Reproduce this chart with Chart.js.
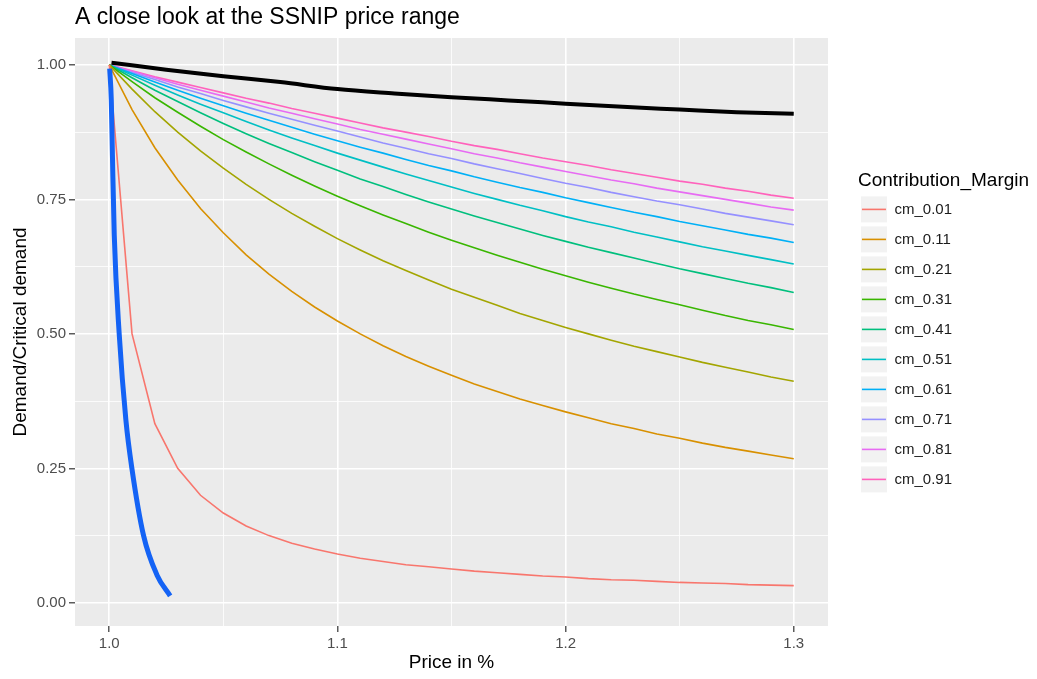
<!DOCTYPE html>
<html>
<head>
<meta charset="utf-8">
<script src="https://cdn.jsdelivr.net/npm/chart.js@4/dist/chart.umd.min.js"></script>
<style>
  body { margin: 0; background: #fff; }
  canvas { display: block; }
</style>
</head>
<body>
<canvas id="ssnip" width="1037" height="679"></canvas>
<script>
// price grid shared by the contribution margin curves
const prices = [1.00, 1.01, 1.02, 1.03, 1.04, 1.05, 1.06, 1.07, 1.08, 1.09, 1.10,
  1.11, 1.12, 1.13, 1.14, 1.15, 1.16, 1.17, 1.18, 1.19, 1.20,
  1.21, 1.22, 1.23, 1.24, 1.25, 1.26, 1.27, 1.28, 1.29, 1.30];

const marginLabels = ['cm_0.01', 'cm_0.11', 'cm_0.21', 'cm_0.31', 'cm_0.41',
  'cm_0.51', 'cm_0.61', 'cm_0.71', 'cm_0.81', 'cm_0.91'];
const marginColors = ['#F8766D', '#D89000', '#A3A500', '#39B600', '#00BF7D',
  '#00BFC4', '#00B0F6', '#9590FF', '#E76BF3', '#FF62BC'];

const cm001 = [1.000, 0.500, 0.333, 0.250, 0.200, 0.167, 0.143, 0.125, 0.111, 0.100, 0.091,
  0.083, 0.077, 0.071, 0.067, 0.063, 0.059, 0.056, 0.053, 0.050, 0.048,
  0.045, 0.043, 0.042, 0.040, 0.038, 0.037, 0.036, 0.034, 0.033, 0.032];
const cm011 = [1.000, 0.917, 0.846, 0.786, 0.733, 0.688, 0.647, 0.611, 0.579, 0.550, 0.524,
  0.500, 0.478, 0.458, 0.440, 0.423, 0.407, 0.393, 0.379, 0.367, 0.355,
  0.344, 0.333, 0.324, 0.314, 0.306, 0.297, 0.289, 0.282, 0.275, 0.268];
const cm021 = [1.000, 0.955, 0.913, 0.875, 0.840, 0.808, 0.778, 0.750, 0.724, 0.700, 0.677,
  0.656, 0.636, 0.618, 0.600, 0.583, 0.568, 0.553, 0.538, 0.525, 0.512,
  0.500, 0.488, 0.477, 0.467, 0.457, 0.447, 0.438, 0.429, 0.420, 0.412];
const cm031 = [1.000, 0.969, 0.939, 0.912, 0.886, 0.861, 0.838, 0.816, 0.795, 0.775, 0.756,
  0.738, 0.721, 0.705, 0.689, 0.674, 0.660, 0.646, 0.633, 0.620, 0.608,
  0.596, 0.585, 0.574, 0.564, 0.554, 0.544, 0.534, 0.525, 0.517, 0.508];
const cm041 = [1.000, 0.976, 0.953, 0.932, 0.911, 0.891, 0.872, 0.854, 0.837, 0.820, 0.804,
  0.788, 0.774, 0.759, 0.745, 0.732, 0.719, 0.707, 0.695, 0.683, 0.672,
  0.661, 0.651, 0.641, 0.631, 0.621, 0.612, 0.603, 0.594, 0.586, 0.577];
const cm051 = [1.000, 0.981, 0.962, 0.944, 0.927, 0.911, 0.895, 0.879, 0.864, 0.850, 0.836,
  0.823, 0.810, 0.797, 0.785, 0.773, 0.761, 0.750, 0.739, 0.729, 0.718,
  0.708, 0.699, 0.689, 0.680, 0.671, 0.662, 0.654, 0.646, 0.638, 0.630];
const cm061 = [1.000, 0.984, 0.968, 0.953, 0.938, 0.924, 0.910, 0.897, 0.884, 0.871, 0.859,
  0.847, 0.836, 0.824, 0.813, 0.803, 0.792, 0.782, 0.772, 0.763, 0.753,
  0.744, 0.735, 0.726, 0.718, 0.709, 0.701, 0.693, 0.685, 0.678, 0.670];
const cm071 = [1.000, 0.986, 0.973, 0.959, 0.947, 0.934, 0.922, 0.910, 0.899, 0.888, 0.877,
  0.866, 0.855, 0.845, 0.835, 0.826, 0.816, 0.807, 0.798, 0.789, 0.780,
  0.772, 0.763, 0.755, 0.747, 0.740, 0.732, 0.724, 0.717, 0.710, 0.703];
const cm081 = [1.000, 0.988, 0.976, 0.964, 0.953, 0.942, 0.931, 0.920, 0.910, 0.900, 0.890,
  0.880, 0.871, 0.862, 0.853, 0.844, 0.835, 0.827, 0.818, 0.810, 0.802,
  0.794, 0.786, 0.779, 0.771, 0.764, 0.757, 0.750, 0.743, 0.736, 0.730];
const cm091 = [1.000, 0.989, 0.978, 0.968, 0.958, 0.948, 0.938, 0.929, 0.919, 0.910, 0.901,
  0.892, 0.883, 0.875, 0.867, 0.858, 0.850, 0.843, 0.835, 0.827, 0.820,
  0.813, 0.805, 0.798, 0.791, 0.784, 0.778, 0.771, 0.765, 0.758, 0.752];
const marginSeries = [cm001, cm011, cm021, cm031, cm041, cm051, cm061, cm071, cm081, cm091];

// thick black curve (observed demand)
const blackPrice = [1.001, 1.025, 1.05, 1.075, 1.10, 1.125, 1.15, 1.175, 1.20, 1.225, 1.25, 1.275, 1.30];
const blackDemand = [1.004, 0.991, 0.979, 0.968, 0.955, 0.947, 0.940, 0.934, 0.928, 0.922, 0.917, 0.912, 0.909];

// thick blue curve (steep drop)
const bluePrice = [1.0002, 1.0009, 1.0014, 1.0022, 1.0044, 1.0073, 1.0099, 1.0150, 1.0209, 1.0267];
const blueDemand = [0.993, 0.935, 0.833, 0.684, 0.498, 0.340, 0.251, 0.126, 0.052, 0.013];

const xMajor = [1.0, 1.1, 1.2, 1.3];
const xMinor = [1.05, 1.15, 1.25];
const yMajor = [0, 0.25, 0.5, 0.75, 1.0];
const yMinor = [0.125, 0.375, 0.625, 0.875];

const FONT = '"Liberation Sans", Arial, Helvetica, sans-serif';

function pairs(xs, ys) {
  return xs.map((x, i) => ({ x: x, y: ys[i] }));
}
function isMajor(v, list) {
  return list.some(m => Math.abs(m - v) < 1e-9);
}

const datasets = [
  { label: 'observed', data: pairs(blackPrice, blackDemand), borderColor: '#000000',
    borderWidth: 4, pointRadius: 0, cubicInterpolationMode: 'monotone' },
  { label: 'steep', data: pairs(bluePrice, blueDemand), borderColor: '#1463F5',
    borderWidth: 5, pointRadius: 0, cubicInterpolationMode: 'monotone' }
];
marginLabels.forEach((lab, i) => {
  datasets.push({ label: lab, data: pairs(prices, marginSeries[i]), borderColor: marginColors[i],
    backgroundColor: marginColors[i], borderWidth: 1.6, pointRadius: 0, tension: 0 });
});

const panelBg = {
  id: 'panelBg',
  beforeDraw(chart) {
    const { ctx, chartArea: a } = chart;
    ctx.save();
    ctx.fillStyle = '#FFFFFF';
    ctx.fillRect(0, 0, chart.width, chart.height);
    ctx.fillStyle = '#EBEBEB';
    ctx.fillRect(a.left, a.top, a.right - a.left, a.bottom - a.top);
    ctx.restore();
  },
  afterDraw(chart) {
    const ctx = chart.ctx;
    ctx.save();
    // plot title, aligned with the panel
    ctx.fillStyle = '#000000';
    ctx.font = '23px ' + FONT;
    ctx.textBaseline = 'alphabetic';
    ctx.textAlign = 'left';
    ctx.fillText('A close look at the SSNIP price range', chart.chartArea.left, 24);
    // legend title (wider than the legend box, so drawn here)
    const lg = chart.legend;
    const first = lg.legendHitBoxes[0];
    if (first) {
      ctx.font = '19px ' + FONT;
      ctx.textBaseline = 'middle';
      ctx.fillText('Contribution_Margin', first.left - 3, first.top - 16);
    }
    // coloured lines inside the legend keys
    lg.legendItems.forEach((item, i) => {
      const hb = lg.legendHitBoxes[i];
      if (!hb) return;
      const y = hb.top + 13;
      ctx.strokeStyle = item.lineColor;
      ctx.lineWidth = 1.6;
      ctx.beginPath();
      ctx.moveTo(hb.left + 1, y);
      ctx.lineTo(hb.left + 25, y);
      ctx.stroke();
    });
    ctx.restore();
  }
};

new Chart(document.getElementById('ssnip'), {
  type: 'line',
  data: { datasets: datasets },
  options: {
    responsive: false,
    animation: false,
    devicePixelRatio: 1,
    layout: { padding: { top: 38, right: 75, left: 0, bottom: 0 } },
    plugins: {
      tooltip: { enabled: false },
      title: { display: false },
      legend: {
        position: 'right',
        align: 'center',
        fullSize: false,
        title: {
          display: true, text: ' ', position: 'start',
          font: { family: FONT, size: 19 }, padding: { top: 2, bottom: 0 }
        },
        labels: {
          boxWidth: 26, boxHeight: 26, padding: 4,
          color: '#1A1A1A', font: { family: FONT, size: 15 },
          generateLabels: (chart) => chart.data.datasets
            .map((ds, i) => ({ text: ds.label, fillStyle: '#F2F2F2', strokeStyle: '#F2F2F2',
              fontColor: '#1A1A1A', lineWidth: 0, hidden: false, datasetIndex: i,
              lineColor: ds.borderColor }))
            .filter(it => it.text.startsWith('cm_'))
        }
      }
    },
    scales: {
      x: {
        type: 'linear', min: 0.985, max: 1.315,
        afterBuildTicks: (s) => { s.ticks = xMajor.concat(xMinor).sort().map(v => ({ value: v })); },
        afterFit: (s) => { s.height = 53; },
        ticks: {
          autoSkip: false, maxRotation: 0, padding: 3, color: '#4D4D4D',
          font: { family: FONT, size: 15 },
          callback: (v) => isMajor(v, xMajor) ? v.toFixed(1) : ''
        },
        grid: {
          color: '#FFFFFF', tickLength: 6,
          lineWidth: (c) => c.tick && isMajor(c.tick.value, xMajor) ? 1.6 : 0.8,
          tickColor: (c) => c.tick && isMajor(c.tick.value, xMajor) ? '#333333' : 'rgba(0,0,0,0)',
          tickWidth: 1.2
        },
        border: { display: false },
        title: {
          display: true, text: 'Price in %', color: '#000000',
          font: { family: FONT, size: 19 }, padding: { top: 0, bottom: 5 }
        }
      },
      y: {
        type: 'linear', min: -0.043, max: 1.05,
        afterBuildTicks: (s) => { s.ticks = yMajor.concat(yMinor).sort().map(v => ({ value: v })); },
        afterFit: (s) => { s.width = 75; },
        ticks: {
          autoSkip: false, padding: 3, color: '#4D4D4D',
          font: { family: FONT, size: 15 },
          callback: (v) => isMajor(v, yMajor) ? v.toFixed(2) : ''
        },
        grid: {
          color: '#FFFFFF', tickLength: 6,
          lineWidth: (c) => c.tick && isMajor(c.tick.value, yMajor) ? 1.6 : 0.8,
          tickColor: (c) => c.tick && isMajor(c.tick.value, yMajor) ? '#333333' : 'rgba(0,0,0,0)',
          tickWidth: 1.2
        },
        border: { display: false },
        title: {
          display: true, text: 'Demand/Critical demand', color: '#000000',
          font: { family: FONT, size: 19 }, padding: { top: 9, bottom: 0 }
        }
      },
      gap: {
        type: 'linear', position: 'right', display: true,
        afterFit: (s) => { s.width = 29; },
        ticks: { display: false },
        grid: { display: false, drawTicks: false },
        border: { display: false }
      }
    }
  },
  plugins: [panelBg]
});
</script>
</body>
</html>
